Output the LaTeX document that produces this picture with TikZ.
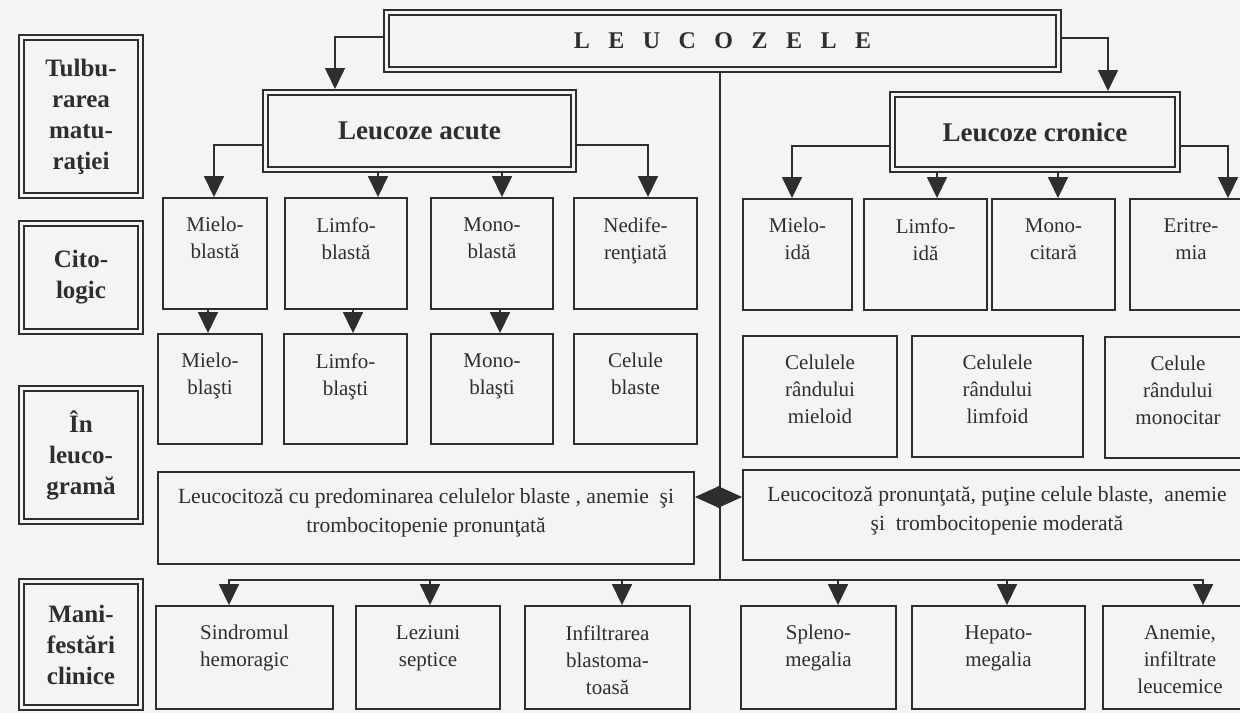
\documentclass[tikz,border=0pt]{standalone}
\usepackage{fontspec}
\setmainfont{Liberation Serif}
\usetikzlibrary{arrows.meta,calc}
\definecolor{paper}{HTML}{F4F4F2}
\definecolor{ink}{HTML}{2E2E2E}

% a single-ruled box with its text set near the top
\newcommand\mkcell[6]{%
  \node[cell, minimum width=#4pt, minimum height=#5pt] (#1) at (#2,#3) {};
  \node[txt] (#1-t) at ([yshift=-20pt]#1.north) {#6};}

\begin{document}
\begin{tikzpicture}[x=1pt,y=-1pt,
  every node/.style={inner sep=0pt},
  cell/.style={rectangle, draw=ink, line width=1.9pt, fill=paper},
  dbl/.style={rectangle, draw=ink, line width=2pt, double=paper,
              double distance=3pt, fill=paper, outer sep=3.5pt},
  txt/.style={text=ink, align=center, anchor=north,
              font={\fontsize{21}{27}\selectfont}},
  widetxt/.style={text=ink, align=center, anchor=north,
              font={\fontsize{21.6}{29}\selectfont}},
  lbl/.style={text=ink, align=center, font={\fontsize{25}{31}\selectfont\bfseries}},
  head/.style={text=ink, font={\fontsize{27}{30}\selectfont\bfseries}},
  conn/.style={draw=ink, line width=1.6pt},
  arr/.style={conn, -{Triangle[length=21pt,width=20pt]}},
  twoway/.style={draw=ink, line width=1pt,
    {Triangle[length=24.5pt,width=22pt]}-{Triangle[length=24.5pt,width=22pt]}}]

\useasboundingbox[fill=paper] (0,0) rectangle (1240,713);

% row labels on the left
\node[dbl, lbl, minimum width=119pt, minimum height=158pt] (tulb) at (81,116.5) {Tulbu-\\rarea\\matu-\\raţiei};
\node[dbl, lbl, minimum width=119pt, minimum height=108pt] (cito) at (81,277.5) {Cito-\\logic};
\node[dbl, lbl, minimum width=119pt, minimum height=133pt] (leuco) at (81,455) {În\\leuco-\\gramă};
\node[dbl, lbl, minimum width=119pt, minimum height=126pt] (mani) at (81,644.5) {Mani-\\festări\\clinice};

% title and the two main groups
\node[dbl, minimum width=672pt, minimum height=57pt, text=ink,
      font={\fontsize{24}{28}\selectfont\bfseries}] (top) at (722.5,40.5)
  {L\hskip18.5pt E\hskip18.5pt U\hskip18.5pt C\hskip18.5pt O\hskip18.5pt Z\hskip18.5pt E\hskip18.5pt L\hskip18.5pt E};
\node[dbl, head, minimum width=308pt, minimum height=77pt] (acute) at (419.5,131) {Leucoze acute};
\node[dbl, head, minimum width=285pt, minimum height=75pt] (cron) at (1035,132) {Leucoze cronice};

% cytology row
\mkcell{mb}{215}{253.5}{104}{111}{Mielo-\\blastă}
\mkcell{lb}{346}{253.5}{122}{111}{Limfo-\\blastă}
\mkcell{nb}{492}{253.5}{122}{111}{Mono-\\blastă}
\mkcell{ub}{635.5}{253.5}{123}{111}{Nedife-\\renţiată}
\mkcell{mi}{797.5}{254.5}{109}{111}{Mielo-\\idă}
\mkcell{li}{925.5}{254.5}{123}{111}{Limfo-\\idă}
\mkcell{mc}{1053.5}{254.5}{123}{111}{Mono-\\citară}
\mkcell{er}{1191}{254.5}{122}{111}{Eritre-\\mia}

% cells in the blood count
\mkcell{mbs}{210}{389}{104}{110}{Mielo-\\blaşti}
\mkcell{lbs}{345.5}{389}{123}{110}{Limfo-\\blaşti}
\mkcell{nbs}{492}{389}{122}{110}{Mono-\\blaşti}
\mkcell{cbs}{635.5}{389}{123}{110}{Celule\\blaste}
\mkcell{cm}{820}{396.5}{154}{121}{Celulele\\rândului\\mieloid}
\mkcell{cl}{997.5}{396.5}{171}{121}{Celulele\\rândului\\limfoid}
\mkcell{co}{1178}{397.5}{146}{121}{Celule\\rândului\\monocitar}

% blood count summaries
\node[cell, minimum width=536pt, minimum height=92pt] (lg1) at (426,518) {};
\node[widetxt] (lg1-t) at ([yshift=-17pt]lg1.north)
  {Leucocitoză cu predominarea celulelor blaste , anemie~~şi\\trombocitopenie pronunţată};
\node[cell, minimum width=508pt, minimum height=90pt] (lg2) at (997,515) {};
\node[widetxt] (lg2-t) at ([yshift=-17pt]lg2.north)
  {Leucocitoză pronunţată, puţine celule blaste,~~anemie\\şi~~trombocitopenie moderată};

% clinical signs
\mkcell{sh}{244.5}{657.5}{177}{103}{Sindromul\\hemoragic}
\mkcell{ls}{428}{657.5}{144}{103}{Leziuni\\septice}
\mkcell{ib}{607.5}{657.5}{165}{103}{Infiltrarea\\blastoma-\\toasă}
\mkcell{sp}{818.5}{657.5}{155}{103}{Spleno-\\megalia}
\mkcell{hp}{998.5}{657.5}{173}{103}{Hepato-\\megalia}
\mkcell{an}{1180}{657.5}{154}{103}{Anemie,\\infiltrate\\leucemice}

% connectors from the title
\coordinate (k1) at (335,37);
\coordinate (k2) at (1108,38);
\draw[arr] (top.west |- k1) -- (k1) -- (acute.north -| k1);
\draw[arr] (top.east |- k2) -- (k2) -- (cron.north -| k2);

% acute forms
\coordinate (k3) at (214,145);
\coordinate (k4) at (378,0);
\coordinate (k5) at (502,0);
\coordinate (k6) at (648,145);
\draw[arr] (acute.west |- k3) -- (k3) -- (mb.north -| k3);
\draw[arr] (acute.south -| k4) -- (lb.north -| k4);
\draw[arr] (acute.south -| k5) -- (nb.north -| k5);
\draw[arr] (acute.east |- k6) -- (k6) -- (ub.north -| k6);

% chronic forms
\coordinate (k7) at (792,146);
\coordinate (k8) at (937,0);
\coordinate (k9) at (1058,0);
\coordinate (k10) at (1228,146);
\draw[arr] (cron.west |- k7) -- (k7) -- (mi.north -| k7);
\draw[arr] (cron.south -| k8) -- (li.north -| k8);
\draw[arr] (cron.south -| k9) -- (mc.north -| k9);
\draw[arr] (cron.east |- k10) -- (k10) -- (er.north -| k10);

% blast cells
\coordinate (k11) at (208,0);
\coordinate (k12) at (353,0);
\coordinate (k13) at (500,0);
\draw[arr] (mb.south -| k11) -- (mbs.north -| k11);
\draw[arr] (lb.south -| k12) -- (lbs.north -| k12);
\draw[arr] (nb.south -| k13) -- (nbs.north -| k13);

% comparison of the two blood counts
\coordinate (dm) at (718,497);
\draw[twoway] (lg1.east |- dm) -- (lg2.west |- dm);

% central trunk down to the clinical signs
\coordinate (hub) at (720,580);
\draw[conn] (top.south -| hub) -- (hub);
\coordinate (b1) at (229,0);
\coordinate (b2) at (430,0);
\coordinate (b3) at (622,0);
\coordinate (b4) at (838,0);
\coordinate (b5) at (1007,0);
\coordinate (b6) at (1203,0);
\draw[arr] (hub) -| (sh.north -| b1);
\draw[arr] (hub) -| (ls.north -| b2);
\draw[arr] (hub) -| (ib.north -| b3);
\draw[arr] (hub) -| (sp.north -| b4);
\draw[arr] (hub) -| (hp.north -| b5);
\draw[arr] (hub) -| (an.north -| b6);

\end{tikzpicture}
\end{document}
